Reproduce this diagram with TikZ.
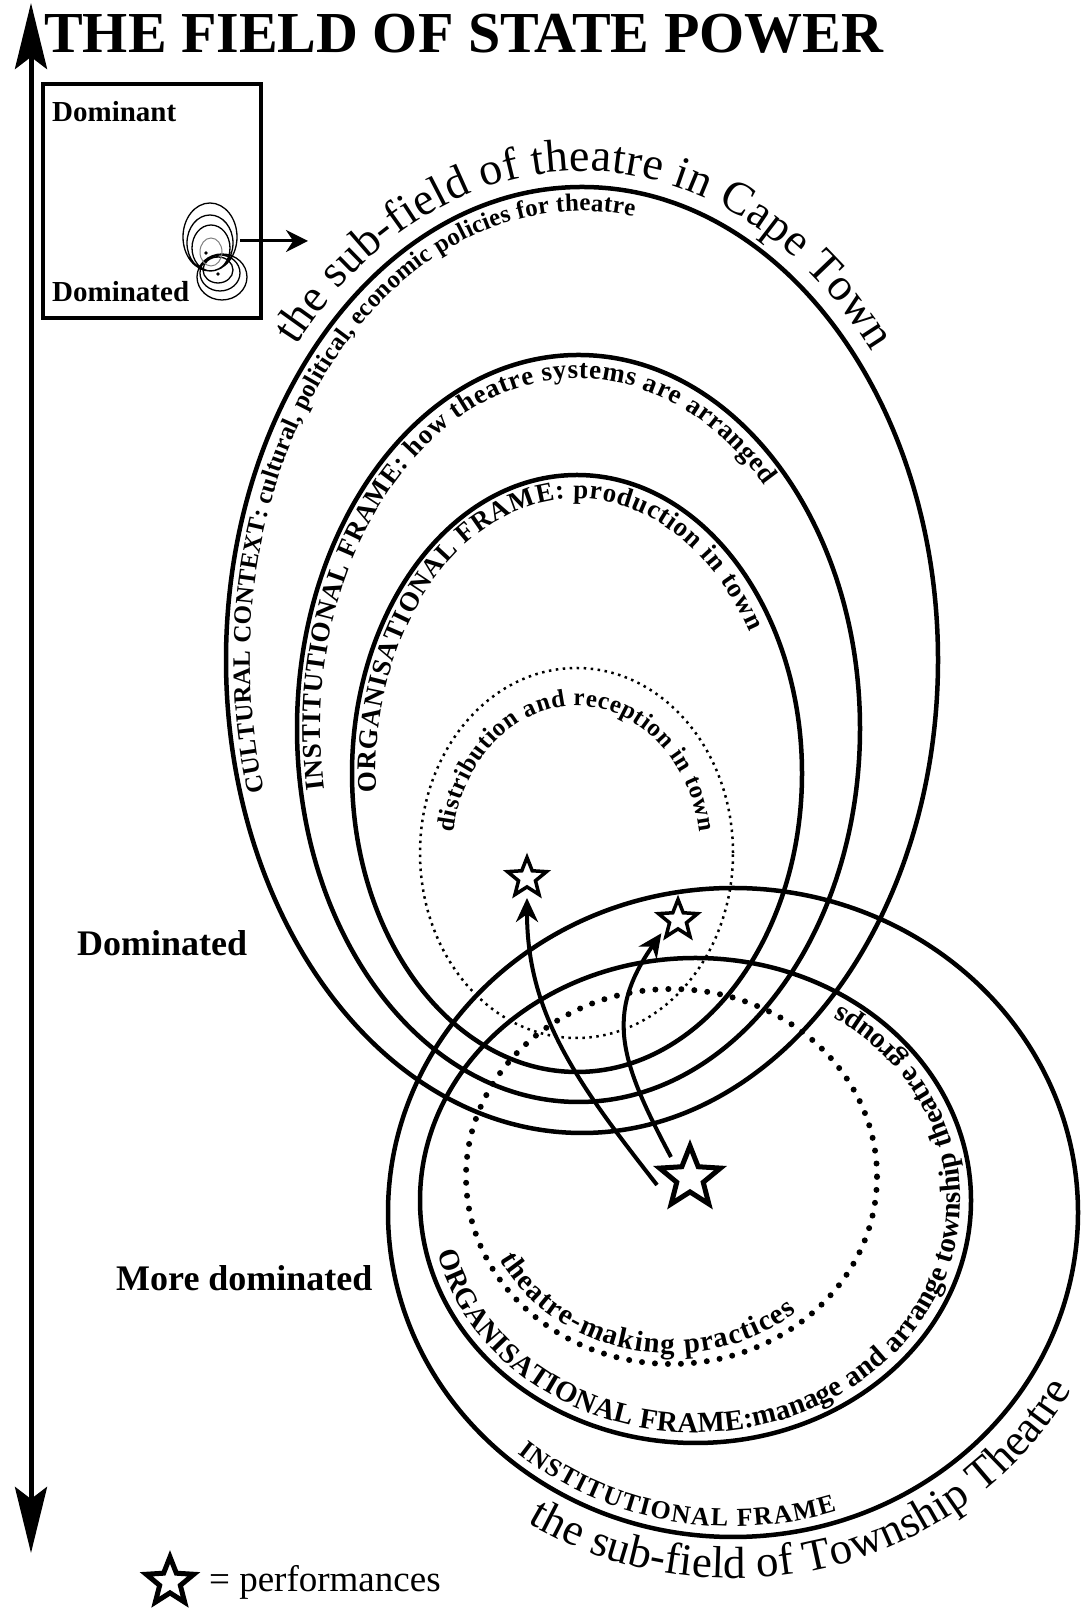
\documentclass[tikz,border=0pt]{standalone}
\usepackage{fontspec}
\setmainfont{Liberation Serif}
\usetikzlibrary{arrows.meta,shapes.geometric,decorations.text}

\newcommand{\titlefont}{\bfseries\fontsize{58}{58}\selectfont}
\newcommand{\axisfont}{\bfseries\fontsize{36}{36}\selectfont}
\newcommand{\boxfont}{\bfseries\fontsize{29}{29}\selectfont}
\newcommand{\legfont}{\fontsize{37}{37}\selectfont}
\newcommand{\capefont}{\fontsize{46}{46}\selectfont}
\newcommand{\twpfont}{\fontsize{45}{45}\selectfont}
\newcommand{\ctxfont}{\bfseries\fontsize{25}{25}\selectfont}
\newcommand{\framefont}{\bfseries\fontsize{27}{27}\selectfont}
\newcommand{\distfont}{\bfseries\fontsize{25}{25}\selectfont}
\newcommand{\instfont}{\bfseries\fontsize{26}{26}\selectfont}
\newcommand{\lowfont}{\bfseries\fontsize{29}{29}\selectfont}

\begin{document}
\begin{tikzpicture}
  [x=1pt,y=1pt,every node/.style={inner sep=0pt},
   frame/.style={line width=4.5pt},
   distdots/.style={line width=2.5pt,dash pattern=on 2.5pt off 4.5pt},
   practdots/.style={line width=6pt,line cap=round,dash pattern=on 0pt off 13pt},
   perf/.style={star,star points=5,star point ratio=2.3,draw,fill=white,line width=3.5pt,minimum size=41pt},
   flow/.style={line width=4pt,-{Stealth[length=24pt,width=22pt]}},
   arctext/.style={decorate,decoration={text along path,text align={fit to path},text={#1}}}]
  \useasboundingbox (0,0) rectangle (1091,1611);

  \coordinate (axtop) at (31,1608);
  \coordinate (axbot) at (31,58);
  \draw[line width=5pt,{Stealth[length=66pt,width=32pt,inset=12pt]}-{Stealth[length=66pt,width=32pt,inset=12pt]}] (axbot) -- (axtop);

  \node[anchor=west,font=\titlefont] (title) at (44,1577) {THE FIELD OF STATE POWER};
  \node[anchor=west,font=\axisfont] (dominated) at (77,668) {Dominated};
  \node[anchor=west,font=\axisfont] (moredom) at (116,333) {More dominated};

  \draw[line width=4.5pt] (43,1293) rectangle (261,1527);
  \node[anchor=west,font=\boxfont] (dominant) at (52,1499) {Dominant};
  \node[anchor=west,font=\boxfont] (boxdom) at (52,1319) {Dominated};
  \draw[line width=1.3pt]
    (210,1374) ellipse [x radius=27,y radius=34]
    (210,1368) ellipse [x radius=23,y radius=28]
    (211,1363) ellipse [x radius=19,y radius=23]
    (222,1334) ellipse [x radius=25,y radius=23]
    (220,1338) ellipse [x radius=20,y radius=18]
    (218,1341) ellipse [x radius=15,y radius=13];
  \draw[line width=1pt,gray] (211,1359) ellipse [x radius=11,y radius=14];
  \fill (206,1358) circle (1.8) (217,1355) circle (1.8) (218,1337) circle (1.8);
  \coordinate (inset) at (240,1370);
  \coordinate (field) at (308,1370);
  \draw[line width=3pt,-{Stealth[length=22pt,width=22pt]}] (inset) -- (field);

  \coordinate (cape) at (582,951);
  \coordinate (inst) at (578.5,882.5);
  \coordinate (org) at (577,837.5);
  \coordinate (dist) at (576.5,758);
  \draw[frame] (cape) ellipse [x radius=356,y radius=473];
  \draw[frame] (inst) ellipse [x radius=281.5,y radius=373.5];
  \draw[frame] (org) ellipse [x radius=225,y radius=298.5];
  \draw[distdots] (dist) ellipse [x radius=156.5,y radius=185];

  \coordinate (twp) at (733,398.5);
  \coordinate (tinst) at (695.5,410.5);
  \coordinate (tprac) at (671.5,434.5);
  \draw[frame] (twp) ellipse [x radius=345,y radius=324.5];
  \draw[frame] (tinst) ellipse [x radius=275.5,y radius=242.5];
  \draw[practdots] (tprac) ellipse [x radius=205.5,y radius=187.5];

  \path[arctext={|\capefont|the sub-field of theatre in Cape Town}]
    (cape) ++(140:373 and 489) arc[start angle=140,end angle=39,x radius=373,y radius=489];
  \path[arctext={|\ctxfont|CULTURAL CONTEXT: cultural, political, economic policies for theatre}]
    (cape) ++(197:332 and 449) arc[start angle=197,end angle=81,x radius=332,y radius=449];
  \path[arctext={|\framefont|INSTITUTIONAL FRAME: how theatre systems are arranged}]
    (inst) ++(190:258 and 350) arc[start angle=190,end angle=44,x radius=258,y radius=350];
  \path[arctext={|\framefont|ORGANISATIONAL FRAME: production in town}]
    (org) ++(184:201 and 275) arc[start angle=184,end angle=31,x radius=201,y radius=275];
  \path[arctext={|\distfont|distribution and reception in town}]
    (dist) ++(172:124 and 147) arc[start angle=172,end angle=8,x radius=124,y radius=147];
  \path[arctext={|\twpfont|the sub-field of Township Theatre}]
    (twp) ++(238:387 and 366) arc[start angle=238,end angle=331,x radius=387,y radius=366];
  \path[arctext={|\instfont|INSTITUTIONAL FRAME}]
    (twp) ++(230:335 and 314) arc[start angle=230,end angle=288,x radius=335,y radius=314];
  \path[arctext={|\lowfont|ORGANISATIONAL FRAME:manage and arrange township theatre groups}]
    (tinst) ++(193:265 and 232) arc[start angle=193,end angle=417,x radius=265,y radius=232];
  \path[arctext={|\lowfont|theatre-making practices}]
    (tprac) ++(208:195 and 177) arc[start angle=208,end angle=310,x radius=195,y radius=177];

  \node[perf] (town1) at (527,733) {};
  \node[perf] (town2) at (678,691) {};
  \node[perf,minimum size=64pt,line width=5pt] (home) at (690,433) {};
  \coordinate (tail1) at (657,426);
  \coordinate (tail2) at (671,454);

\path[flow]
    (tail1) edge [out=128,in=-90,shorten >=9pt] (town1.south)
    (tail2) edge [out=118,in=-125,looseness=1.2,shorten >=10pt] (town2.205)
    ;

  \node[perf,minimum size=50pt,line width=5pt] (legstar) at (170,29) {};
  \node[anchor=west,font=\legfont] (legend) at (209,29) {= performances};

\end{tikzpicture}
\end{document}
